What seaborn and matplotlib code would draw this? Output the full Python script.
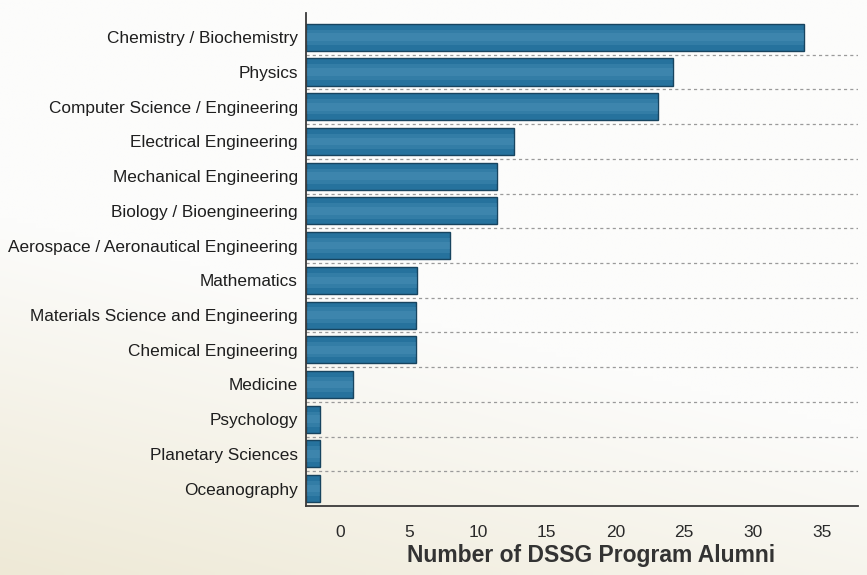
import numpy as np
import pandas as pd
import matplotlib
matplotlib.use("Agg")
import matplotlib.pyplot as plt
import seaborn as sns

fields = [
    "Chemistry / Biochemistry",
    "Physics",
    "Computer Science / Engineering",
    "Electrical Engineering",
    "Mechanical Engineering",
    "Biology / Bioengineering",
    "Aerospace / Aeronautical Engineering",
    "Mathematics",
    "Materials Science and Engineering",
    "Chemical Engineering",
    "Medicine",
    "Psychology",
    "Planetary Sciences",
    "Oceanography",
]
alumni = [36.2, 26.7, 25.6, 15.1, 13.9, 13.9, 10.5, 8.1, 8.0, 8.0, 3.4, 1.0, 1.0, 1.0]
x_tick_labels = ["0", "5", "10", "15", "20", "25", "30", "35"]

sns.set_theme(style="white")
plt.rcParams["font.family"] = ["Liberation Sans", "DejaVu Sans"]

W, H = 867, 575
fig = plt.figure(figsize=(W / 100, H / 100), dpi=100)

# subtle paper-like background gradient
bg = fig.add_axes([0, 0, 1, 1], zorder=-10)
rows, cols = 120, 180
yy, xx = np.mgrid[0:1:rows * 1j, 0:1:cols * 1j]
t = np.clip((yy - 0.55) * 1.6 + (0.45 - xx) * 0.6, 0, 1)[..., None]
white = np.array([252, 252, 251]) / 255
beige = np.array([238, 233, 214]) / 255
img = white * (1 - t) + beige * t
bg.imshow(img, aspect="auto", extent=[0, 1, 0, 1], interpolation="bilinear")
bg.axis("off")

ax = fig.add_axes([306 / W, 1 - 506 / H, (858 - 306) / W, (506 - 13) / H])
ax.patch.set_alpha(0)

df = pd.DataFrame({"field": fields, "alumni": alumni})
sns.barplot(data=df, x="alumni", y="field", order=fields, color="#26729d",
            edgecolor="#17445f", linewidth=1.0, width=0.78, saturation=1, ax=ax)
# soft highlight stripes along each bar
sns.barplot(data=df, x="alumni", y="field", order=fields, color="#5b9ec4",
            alpha=0.25, linewidth=0, width=0.44, saturation=1, ax=ax)
sns.barplot(data=df, x="alumni", y="field", order=fields, color="#5b9ec4",
            alpha=0.25, linewidth=0, width=0.22, saturation=1, ax=ax)

ax.set_xlim(0, 40.15)
ax.set_ylim(13.5, -0.7)

# x axis: ticks at 0..40 step 5, labels placed between ticks
ax.set_xticks(np.arange(0, 41, 5))
ax.set_xticklabels([""] * 9)
ax.set_xticks(np.arange(2.5, 40, 5), minor=True)
ax.set_xticklabels(x_tick_labels, minor=True)
ax.tick_params(axis="x", which="major", length=5, width=1, color="#555555", direction="out")
ax.tick_params(axis="x", which="minor", length=0, pad=14, labelsize=12.5, labelcolor="#2a2a2a")

# y axis: boundary ticks + centered labels
ax.set_yticks(np.arange(0.5, 13.5, 1))
ax.set_yticklabels([""] * 13)
ax.set_yticks(np.arange(0, 14), minor=True)
ax.set_yticklabels(fields, minor=True)
ax.tick_params(axis="y", which="major", length=4, width=1, color="#555555", direction="out")
ax.tick_params(axis="y", which="minor", length=0, pad=6, labelsize=12.4, labelcolor="#1e1e1e")

ax.grid(False)
ax.yaxis.grid(True, which="major", linestyle=(0, (2.5, 2.5)), color="#9a9a9a", linewidth=0.9)
ax.set_axisbelow(True)

for side in ["top", "right"]:
    ax.spines[side].set_visible(False)
for side in ["left", "bottom"]:
    ax.spines[side].set_color("#3a3a3a")
    ax.spines[side].set_linewidth(1.3)

ax.set_ylabel("")
ax.set_xlabel("Number of DSSG Program Alumni", fontsize=16.5, fontweight="bold", color="#333333")
ax.xaxis.set_label_coords(0.516, -0.078)
ax.xaxis.label.set_va("top")

fig.savefig("out.png", dpi=100)
